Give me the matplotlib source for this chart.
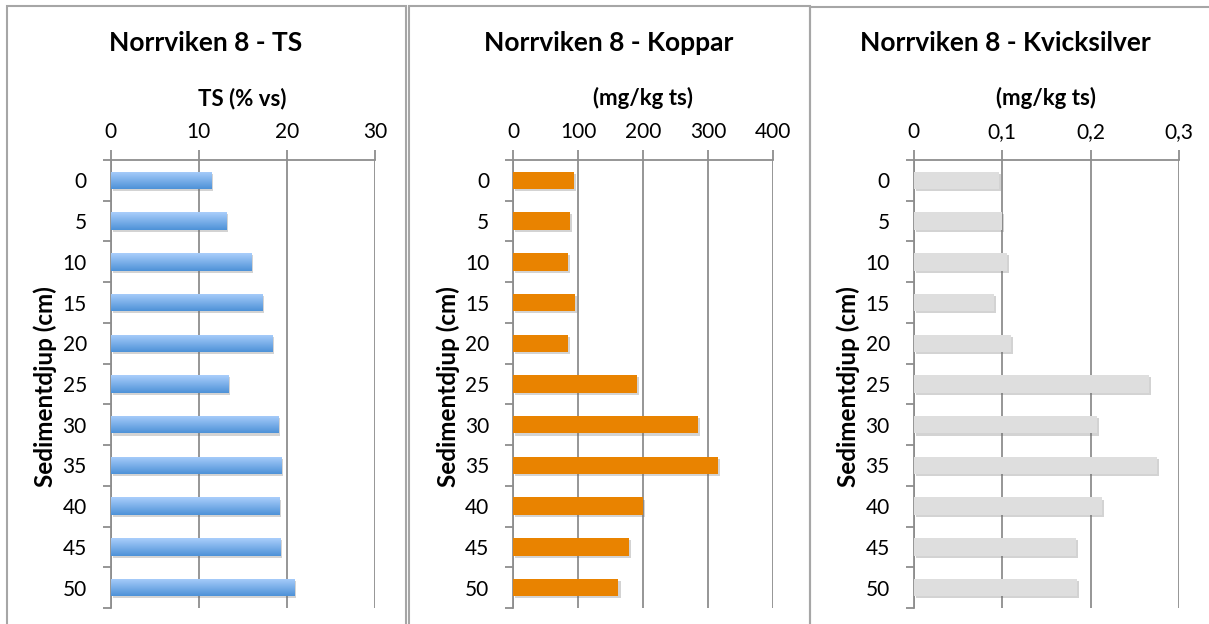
import matplotlib.pyplot as plt
import matplotlib.patheffects as pe
import numpy as np
from matplotlib.patches import Rectangle
from matplotlib.colors import LinearSegmentedColormap

plt.rcParams['font.family'] = ['Lato', 'DejaVu Sans']

# sediment depth (cm) and the three measured series
depths = ["0", "5", "10", "15", "20", "25", "30", "35", "40", "45", "50"]
ts_values = [11.4, 13.1, 15.9, 17.2, 18.3, 13.3, 19.0, 19.3, 19.1, 19.2, 20.8]
koppar_values = [93, 88, 84, 95, 84, 190, 284, 315, 200, 178, 162]
kvicksilver_values = [0.097, 0.100, 0.106, 0.091, 0.110, 0.266, 0.207, 0.275, 0.213, 0.184, 0.185]

titles = ["Norrviken 8 - TS", "Norrviken 8 - Koppar", "Norrviken 8 - Kvicksilver"]
xlabels = ["TS (% vs)", "(mg/kg ts)", "(mg/kg ts)"]
xticks = [[0, 10, 20, 30], [0, 100, 200, 300, 400], [0, 0.1, 0.2, 0.3]]
xticklabels = [["0", "10", "20", "30"],
               ["0", "100", "200", "300", "400"],
               ["0", "0,1", "0,2", "0,3"]]
ylabel = "Sedimentdjup (cm)"

W, H = 1209, 624
GRID = '#8e8e8e'
BORDER = '#a6a6a6'


def fig_box(x0, x1, y0, y1):
    return [x0 / W, 1 - y1 / H, (x1 - x0) / W, (y1 - y0) / H]


fig = plt.figure(figsize=(W / 100, H / 100), dpi=100)

# chart frames (pixel coords: left, right, top)
frames = [(6.5, 405.5, 6), (408.5, 809.5, 5.5), (809.5, 1215, 7)]
for x0, x1, y0 in frames:
    fig.add_artist(Rectangle((x0 / W, -0.05), (x1 - x0) / W, 1.05 - y0 / H,
                             transform=fig.transFigure, fill=False,
                             edgecolor=BORDER, lw=1.5))

plot_x = [(110.5, 375), (513, 773.3), (913.5, 1179)]
title_x = [206, 609, 1005]
ylabel_x = [45, 448, 848]
series = [ts_values, koppar_values, kvicksilver_values]
colors = [None, '#e98300', '#dedede']

blue = LinearSegmentedColormap.from_list('blue_grad', ['#aacefb', '#4e92d8'])
shadow = [pe.SimplePatchShadow(offset=(1.5, -1.5), alpha=0.3, shadow_rgbFace='#707070'),
          pe.Normal()]

y = np.arange(len(depths))
for i in range(3):
    x0, x1 = plot_x[i]
    ax = fig.add_axes(fig_box(x0, x1, 160, 608))
    vals = series[i]
    bars = ax.barh(y, vals, height=0.43,
                   color=colors[i] if colors[i] else '#7db0ec',
                   edgecolor='none', zorder=3)
    for b in bars:
        b.set_path_effects(shadow)
    if i == 0:
        grad = np.linspace(0, 1, 64).reshape(-1, 1)
        for b, v, yy in zip(bars, vals, y):
            im = ax.imshow(grad, cmap=blue, aspect='auto', origin='upper',
                           extent=[0, v, yy + 0.215, yy - 0.215], zorder=4)
            im.set_clip_path(b)

    ax.set_xlim(xticks[i][0], xticks[i][-1])
    ax.set_ylim(len(depths) - 0.5, -0.5)
    ax.xaxis.tick_top()
    ax.set_xticks(xticks[i])
    ax.set_xticklabels(xticklabels[i])
    ax.set_yticks(y)
    ax.set_yticklabels(depths)
    ax.set_yticks(np.arange(-0.5, len(depths), 1), minor=True)
    ax.tick_params(axis='x', direction='out', length=7, width=1.3, color=GRID,
                   labelsize=15, pad=6)
    ax.tick_params(axis='y', which='major', length=0, labelsize=15, pad=17)
    ax.tick_params(axis='y', which='minor', direction='out', length=6,
                   width=1.3, color=GRID)
    ax.grid(axis='x', color=GRID, lw=1.3, zorder=0)
    ax.set_axisbelow(True)
    for s in ['right', 'bottom']:
        ax.spines[s].set_visible(False)
    for s in ['left', 'top']:
        ax.spines[s].set_color(GRID)
        ax.spines[s].set_linewidth(1.3)

    fig.text(title_x[i] / W, 1 - 51 / H, titles[i], ha='center', va='baseline',
             fontsize=19, fontweight='bold')
    fig.text((x0 + x1) / 2 / W, 1 - 105 / H, xlabels[i], ha='center',
             va='baseline', fontsize=16, fontweight='bold')
    fig.text(ylabel_x[i] / W, 1 - 387 / H, ylabel, ha='center', va='center',
             rotation=90, fontsize=17.5, fontweight='bold')

fig.savefig('out.png', dpi=100)
